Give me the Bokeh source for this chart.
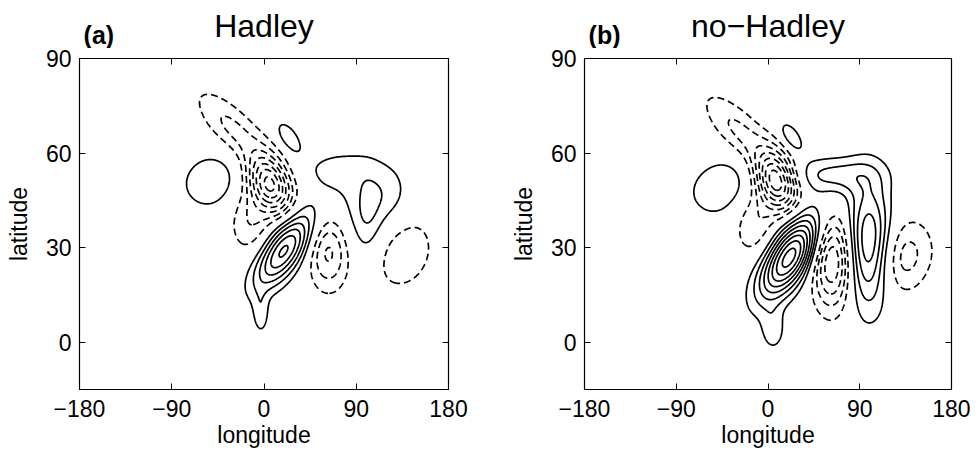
import numpy as np
from bokeh.plotting import figure
from bokeh.layouts import row, column
from bokeh.models import FixedTicker, LinearAxis, ColumnDataSource
from bokeh.core.properties import value
from bokeh.embed import file_html
from bokeh.resources import INLINE

# ---- data: vortex blobs (lon, lat centre, amplitude in contour units,
# ---- half-widths along/across the tilt direction in visual units, tilt angle in degrees)
a_lon0 = [-51, 24, 19, -3, 6, -28, -13, 70, 100, 101, 122, 63, 135]
a_lat0 = [51, 65, 29, 9, 50, 67, 39, 55, 42, 38, 47, 29, 29]
a_amp = [1.9, 2.0, 6.3, 1.6, -6.8, -2.3, -2.0, 1.05, 1.4, 1.0, 0.8, -3.4, -2.0]
a_sig_major = [19, 12, 29, 14, 20, 36, 24, 32, 28, 30, 14, 26, 28]
a_sig_minor = [22, 6, 12.5, 5.5, 13, 13, 15, 15, 30, 10, 18, 14, 22]
a_angle = [-70, -55, 54, 90, -65, -45, 90, 0, 0, 90, 0, 90, 70]

b_lon0 = [-44, 23, 21, 5, 8, -25, -13, 65, 99, 63, 132]
b_lat0 = [49, 65, 27, 4, 51, 66, 38, 53, 31, 26, 27]
b_amp = [1.9, 2.0, 8.6, 1.7, -7.5, -2.3, -2.0, 2.4, 5.3, -5.2, -2.6]
b_sig_major = [20, 12, 31, 14, 20, 36, 24, 30, 42, 32, 26]
b_sig_minor = [26, 6, 14, 8, 13, 13, 15, 12, 15, 14, 20]
b_angle = [-70, -55, 57, 90, -70, -45, 90, 0, 90, 90, 70]

neg_levels = [-9, -8, -7, -6, -5, -4, -3, -2, -1]
pos_levels = [1, 2, 3, 4, 5, 6, 7, 8, 9]

x_ticks = [-180, -90, 0, 90, 180]
x_tick_labels = ["\u2212180", "\u221290", "0", "90", "180"]
y_ticks = [0, 30, 60, 90]
y_tick_labels = ["0", "30", "60", "90"]

titles = ["Hadley", "no\u2212Hadley"]
tags = ["(a)", "(b)"]

FONT = "Liberation Sans"

lon = np.linspace(-180, 180, 721)
lat = np.linspace(-15, 90, 421)
LON, LAT = np.meshgrid(lon, lat)


def field(lon0, lat0, amp, sa, sb, ang):
    z = np.zeros_like(LON)
    for x0, y0, A, s1, s2, t in zip(lon0, lat0, amp, sa, sb, ang):
        u = LON - x0
        v = (LAT - y0) * 3.0
        th = np.deg2rad(t)
        up = u * np.cos(th) + v * np.sin(th)
        vp = -u * np.sin(th) + v * np.cos(th)
        z += A * np.exp(-0.5 * ((up / s1) ** 2 + (vp / s2) ** 2))
    return z


HEAD_H = 48


def make_header(title, tag, left, right, fw):
    h = figure(x_range=(-180, 180), y_range=(0, HEAD_H), frame_width=fw, frame_height=HEAD_H,
               min_border_left=left, min_border_right=right, min_border_top=0,
               min_border_bottom=0, output_backend="svg", toolbar_location=None)
    h.axis.visible = False
    h.grid.visible = False
    h.outline_line_color = None
    src_t = ColumnDataSource(dict(x=[0], y=[23], t=[title]))
    h.text(x="x", y="y", text="t", source=src_t, text_align="center",
           text_baseline="alphabetic", text_font=value(FONT), text_font_size="32px",
           text_color="black")
    src_g = ColumnDataSource(dict(x=[-176], y=[14], t=[tag]))
    h.text(x="x", y="y", text="t", source=src_g, text_align="left",
           text_baseline="alphabetic", text_font=value(FONT), text_font_size="25px",
           text_font_style="bold", text_color="black")
    return h


def make_panel(z, left, right, fw):
    p = figure(x_range=(-180, 180), y_range=(-15, 90),
               frame_width=fw, frame_height=331,
               min_border_left=left, min_border_right=right,
               min_border_top=10, min_border_bottom=64,
               output_backend="svg", toolbar_location=None)
    p.grid.visible = False
    p.outline_line_color = "black"
    p.outline_line_width = 1.2

    p.contour(x=lon, y=lat, z=z, levels=neg_levels, line_color="black",
              line_width=1.7, line_dash="7 4")
    p.contour(x=lon, y=lat, z=z, levels=pos_levels, line_color="black",
              line_width=1.7)

    for ax in (p.xaxis[0], p.yaxis[0]):
        ax.axis_line_color = "black"
        ax.major_tick_in = 6
        ax.major_tick_out = 0
        ax.minor_tick_line_color = None
        ax.major_tick_line_color = "black"
        ax.major_label_text_font = FONT
        ax.major_label_text_font_size = "23px"
        ax.major_label_text_color = "black"
        ax.axis_label_text_font = FONT
        ax.axis_label_text_font_size = "23px"
        ax.axis_label_text_font_style = "normal"
        ax.axis_label_text_color = "black"
    p.xaxis.ticker = FixedTicker(ticks=x_ticks)
    p.xaxis.major_label_overrides = dict(zip(x_ticks, x_tick_labels))
    p.yaxis.ticker = FixedTicker(ticks=y_ticks)
    p.yaxis.major_label_overrides = dict(zip(y_ticks, y_tick_labels))
    p.xaxis.axis_label = "longitude"
    p.yaxis.axis_label = "latitude"
    p.xaxis.major_label_standoff = 10
    p.xaxis.axis_label_standoff = 2
    p.yaxis.major_label_standoff = 8
    p.yaxis.axis_label_standoff = 11

    top = LinearAxis(ticker=FixedTicker(ticks=x_ticks), major_tick_in=6, major_tick_out=0,
                     minor_tick_line_color=None, major_label_text_font_size="2px",
                     major_label_overrides={t: "" for t in x_ticks},
                     major_label_standoff=0)
    rgt = LinearAxis(ticker=FixedTicker(ticks=y_ticks), major_tick_in=6, major_tick_out=0,
                     minor_tick_line_color=None, major_label_text_font_size="2px",
                     major_label_overrides={t: "" for t in y_ticks},
                     major_label_standoff=0)
    p.add_layout(top, "above")
    p.add_layout(rgt, "right")
    return p


za = field(a_lon0, a_lat0, a_amp, a_sig_major, a_sig_minor, a_angle)
zb = field(b_lon0, b_lat0, b_amp, b_sig_major, b_sig_minor, b_angle)

ha = make_header(titles[0], tags[0], 79, 49, 369)
hb = make_header(titles[1], tags[1], 87, 19, 367)
pa = make_panel(za, 79, 49, 369)
pb = make_panel(zb, 87, 19, 367)

layout = row(column(ha, pa, spacing=0), column(hb, pb, spacing=0), spacing=0)
open("out.html", "w").write(file_html(layout, INLINE))
